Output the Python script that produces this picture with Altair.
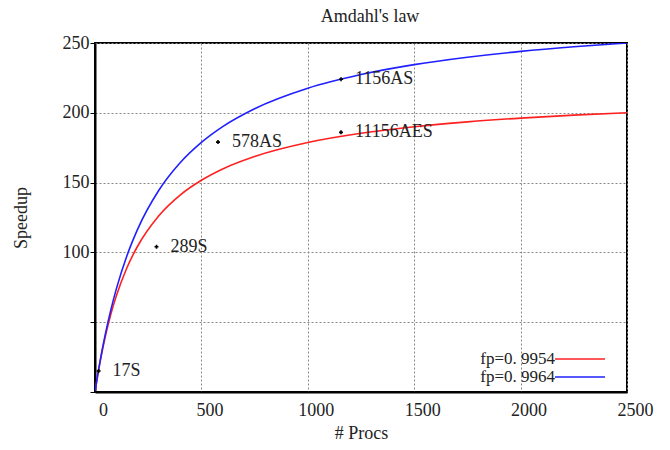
import altair as alt
import pandas as pd

# Curve samples
procs = [1, 5, 10, 25, 50, 75, 100, 150, 200, 300, 400, 500, 600, 750, 1000,
         1250, 1500, 1750, 2000, 2250, 2500]
speedup_9954 = [1.0, 4.9, 9.6, 22.5, 40.8, 56.0, 68.7, 89.0, 104.4, 126.3, 141.1,
                151.7, 159.8, 168.7, 178.7, 185.3, 190.0, 193.5, 196.2, 198.3, 200.0]
speedup_9964 = [1.0, 4.9, 9.7, 23.0, 42.5, 59.2, 73.7, 97.6, 116.5, 144.5, 164.2,
                178.8, 190.1, 202.9, 217.6, 227.4, 234.5, 239.8, 244.0, 247.3, 250.0]
series_names = ["fp=0. 9954", "fp=0. 9964"]
series_colors = ["#ff2020", "#2020ff"]

# Measured points
pt_procs = [17, 289, 578, 1156, 1156]
pt_speedup = [15, 104, 179, 224, 186]
pt_labels = ["17S", "289S", "578AS", "1156AS", "11156AES"]

x_ticks = [0, 500, 1000, 1500, 2000, 2500]
y_ticks = [0, 50, 100, 150, 200, 250]

FONT = "Liberation Serif"
FS = 18

curves = pd.DataFrame({
    "procs": procs * 2,
    "speedup": speedup_9954 + speedup_9964,
    "series": [series_names[0]] * len(procs) + [series_names[1]] * len(procs),
})
points = pd.DataFrame({"procs": pt_procs, "speedup": pt_speedup, "label": pt_labels})
legend_df = pd.DataFrame({"series": series_names, "color": series_colors, "row": [0, 1]})

xscale = alt.Scale(domain=[0, 2500], nice=False)
yscale = alt.Scale(domain=[0, 250], nice=False)
rowscale = alt.Scale(domain=[0, 1], range=[316, 334])

xaxis = alt.Axis(values=x_ticks, title="# Procs", grid=True, ticks=False, format="d",
                 labelOffset=8, labelPadding=9, labelFlush=False, titlePadding=5)
yaxis = alt.Axis(values=y_ticks, title="Speedup", grid=True, tickSize=5,
                 labelExpr="datum.value >= 100 ? datum.label : ''",
                 labelPadding=1, titlePadding=32)

lines = alt.Chart(curves).mark_line(strokeWidth=1.6, interpolate="monotone", clip=True).encode(
    x=alt.X("procs:Q", scale=xscale, axis=xaxis),
    y=alt.Y("speedup:Q", scale=yscale, axis=yaxis),
    color=alt.Color("series:N", scale=alt.Scale(domain=series_names, range=series_colors), legend=None),
)

marks = alt.Chart(points).mark_point(shape="cross", filled=True, size=16, color="black", opacity=1).encode(
    x=alt.X("procs:Q", scale=xscale),
    y=alt.Y("speedup:Q", scale=yscale, axis=None),
)

labels = alt.Chart(points).mark_text(align="left", baseline="middle", dx=14, fontSize=FS,
                                     font=FONT, color="#222").encode(
    x=alt.X("procs:Q", scale=xscale),
    y=alt.Y("speedup:Q", scale=yscale, axis=None),
    text="label:N",
)

leg_text = alt.Chart(legend_df).mark_text(align="right", baseline="middle", fontSize=17,
                                          font=FONT, color="#222").encode(
    x=alt.value(460),
    y=alt.Y("row:Q", scale=rowscale, axis=None),
    text="series:N",
)
leg_lines = alt.Chart(legend_df).mark_rule(strokeWidth=1.6).encode(
    x=alt.value(460),
    x2=alt.value(510),
    y=alt.Y("row:Q", scale=rowscale, axis=None),
    color=alt.Color("color:N", scale=None),
)

chart = alt.layer(lines, marks, labels, leg_lines, leg_text).resolve_scale(y="independent").properties(
    width=532,
    height=349,
    autosize=alt.AutoSizeParams(type="none"),
    padding={"left": 87, "top": 35, "right": 27, "bottom": 50},
    title=alt.TitleParams("Amdahl's law", font=FONT, fontSize=FS, fontWeight="normal",
                          color="#222", offset=8, dx=9),
).configure_view(
    stroke="black", strokeWidth=2
).configure_axis(
    labelFont=FONT, labelFontSize=FS, labelColor="#222",
    titleFont=FONT, titleFontSize=FS, titleFontWeight="normal", titleColor="#222",
    gridColor="#888", gridDash=[2, 2], gridWidth=1,
    domainColor="black", domainWidth=2, tickColor="black",
)

chart.save("out.html", embed_options={"renderer": "svg", "actions": False})
